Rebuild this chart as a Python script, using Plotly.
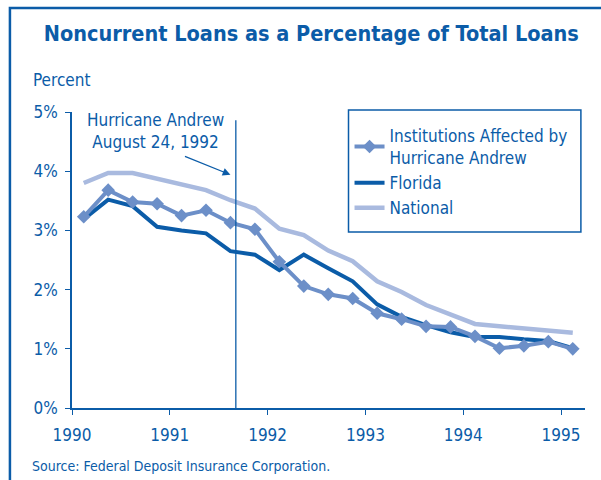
import plotly.graph_objects as go

# Quarterly observations, 1990 Q1 .. 1995 Q1
quarters = [1990.12 + 0.25 * i for i in range(21)]

institutions = [3.23, 3.68, 3.48, 3.45, 3.25, 3.34, 3.13, 3.02, 2.47, 2.06, 1.92,
                1.85, 1.60, 1.50, 1.38, 1.37, 1.21, 1.01, 1.05, 1.12, 1.00]
florida = [3.19, 3.52, 3.41, 3.06, 3.00, 2.95, 2.65, 2.59, 2.33, 2.59, 2.36,
           2.14, 1.75, 1.54, 1.40, 1.28, 1.20, 1.20, 1.16, 1.13, 1.01]
national = [3.80, 3.97, 3.97, 3.87, 3.77, 3.68, 3.51, 3.37, 3.03, 2.92, 2.66,
            2.48, 2.14, 1.96, 1.74, 1.58, 1.42, 1.38, 1.34, 1.30, 1.27]

year_ticks = [1990, 1991, 1992, 1993, 1994, 1995]
year_labels = ["1990", "1991", "1992", "1993", "1994", "1995"]
pct_ticks = [0, 1, 2, 3, 4, 5]
pct_labels = ["0%", "1%", "2%", "3%", "4%", "5%"]

hurricane_x = 1991.675

BLUE = "#0b5ca8"
INST = "#6c8fc8"
NAT = "#a9badf"
FONT = "DejaVu Sans Condensed, Liberation Sans Narrow, sans-serif"

fig = go.Figure()
fig.add_trace(go.Scatter(x=quarters, y=national, mode="lines", name="National",
                         line=dict(color=NAT, width=4.5)))
fig.add_trace(go.Scatter(x=quarters, y=florida, mode="lines", name="Florida",
                         line=dict(color=BLUE, width=4)))
fig.add_trace(go.Scatter(x=quarters, y=institutions, mode="lines+markers",
                         name="Institutions Affected by<br>Hurricane Andrew",
                         line=dict(color=INST, width=4),
                         marker=dict(symbol="diamond", size=10.5, color=INST)))

fig.add_shape(type="line", xref="x", yref="y", x0=hurricane_x, x1=hurricane_x,
              y0=0, y1=4.86, line=dict(color=BLUE, width=1.3))

fig.add_annotation(x=1990.85, y=4.68, xref="x", yref="y",
                   text="Hurricane Andrew<br>August 24, 1992", showarrow=False,
                   font=dict(size=17, color=BLUE, family=FONT), align="center",
                   yanchor="middle")
fig.add_annotation(x=1991.62, y=3.94, xref="x", yref="y", ax=-47, ay=-19,
                   axref="pixel", ayref="pixel", text="", showarrow=True,
                   arrowhead=2, arrowsize=1.2, arrowwidth=1.3, arrowcolor=BLUE)

fig.add_annotation(x=-0.08, y=1.107, xref="paper", yref="paper", text="Percent",
                   showarrow=False, xanchor="left", yanchor="middle",
                   font=dict(size=17, color=BLUE, family=FONT))
fig.add_annotation(x=-0.082, y=-0.195, xref="paper", yref="paper",
                   text="Source: Federal Deposit Insurance Corporation.",
                   showarrow=False, xanchor="left", yanchor="middle",
                   font=dict(size=14, color=BLUE, family=FONT))

# Outer frame (top and left edges visible)
fig.add_shape(type="rect", xref="paper", yref="paper", x0=-0.121, x1=1.3,
              y0=-0.5, y1=1.351, line=dict(color=BLUE, width=2.5), layer="above")

# Legend box
fig.add_shape(type="rect", xref="paper", yref="paper", x0=0.539, x1=0.992,
              y0=0.595, y1=1.007, line=dict(color=BLUE, width=1.5),
              fillcolor="white", layer="below")

fig.update_xaxes(range=[1990, 1995.245], tickvals=year_ticks, ticktext=year_labels,
                 showgrid=False, zeroline=False, showline=True, linecolor=BLUE,
                 linewidth=1.5, ticks="outside", ticklen=5, tickcolor=BLUE,
                 tickwidth=1.3, ticklabelstandoff=6,
                 tickfont=dict(size=17, color=BLUE, family=FONT))
fig.update_yaxes(range=[0, 5], tickvals=pct_ticks, ticktext=pct_labels,
                 showgrid=False, zeroline=False, showline=True, linecolor=BLUE,
                 linewidth=1.5, ticks="outside", ticklen=5, tickcolor=BLUE,
                 tickwidth=1.3, ticklabelstandoff=4,
                 tickfont=dict(size=17, color=BLUE, family=FONT))

fig.update_layout(
    width=601, height=480,
    margin=dict(l=72, r=16, t=112, b=72),
    paper_bgcolor="white", plot_bgcolor="white",
    title=dict(text="<b>Noncurrent Loans as a Percentage of Total Loans</b>",
               x=0.518, xanchor="center", y=0.931, yanchor="middle",
               font=dict(size=21.5, color=BLUE, family=FONT)),
    showlegend=True,
    legend=dict(x=0.541, y=0.98, xanchor="left", yanchor="top",
                borderwidth=0, bgcolor="rgba(0,0,0,0)",
                traceorder="reversed",
                font=dict(size=17, color=BLUE, family=FONT),
                itemwidth=30, tracegroupgap=0),
)

fig.write_html("out.html", config={"displayModeBar": False},
               post_script="document.body.style.margin='0';")
